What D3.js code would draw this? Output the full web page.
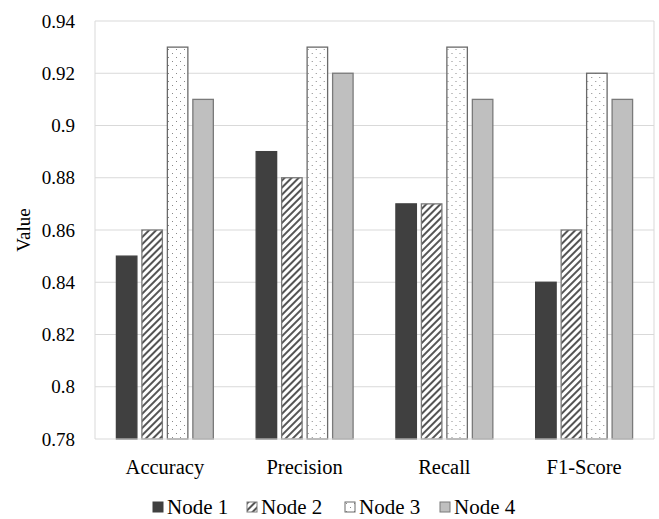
<!DOCTYPE html>
<html>
<head>
<meta charset="utf-8">
<script src="https://cdn.jsdelivr.net/npm/d3@7"></script>
<style>
  body { margin: 0; background: #fff; }
</style>
</head>
<body>
<svg width="659" height="519" font-family="'Liberation Serif', 'Times New Roman', Times, 'DejaVu Serif', serif"></svg>
<script>
let categories = ['Accuracy', 'Precision', 'Recall', 'F1-Score'];
let nodes = ['Node 1', 'Node 2', 'Node 3', 'Node 4'];
let node1 = [0.85, 0.89, 0.87, 0.84];
let node2 = [0.86, 0.88, 0.87, 0.86];
let node3 = [0.93, 0.93, 0.93, 0.92];
let node4 = [0.91, 0.92, 0.91, 0.91];
let yTicks = [0.78, 0.8, 0.82, 0.84, 0.86, 0.88, 0.9, 0.92, 0.94];

let series = [node1, node2, node3, node4];

let plotLeft = 95, plotRight = 654, plotTop = 21, plotBottom = 439;

let svg = d3.select('svg');

// patterns
let defs = svg.append('defs');
let hatch = defs.append('pattern')
  .attr('id', 'hatch')
  .attr('patternUnits', 'userSpaceOnUse')
  .attr('width', 5).attr('height', 5)
  .attr('patternTransform', 'rotate(45)');
hatch.append('rect').attr('width', 5).attr('height', 5).attr('fill', '#fff');
hatch.append('rect').attr('x', 0).attr('width', 2).attr('height', 5).attr('fill', '#555');

let dots = defs.append('pattern')
  .attr('id', 'dots')
  .attr('patternUnits', 'userSpaceOnUse')
  .attr('width', 8).attr('height', 8);
dots.append('rect').attr('width', 8).attr('height', 8).attr('fill', '#fff');
dots.append('rect').attr('x', 1).attr('y', 1).attr('width', 1).attr('height', 1).attr('fill', '#888');
dots.append('rect').attr('x', 5).attr('y', 5).attr('width', 1).attr('height', 1).attr('fill', '#888');

let fills = ['#404040', 'url(#hatch)', 'url(#dots)', '#bfbfbf'];
let strokes = ['#404040', '#7a7a7a', '#6a6a6a', '#7a7a7a'];

let x0 = d3.scaleBand().domain(categories).range([plotLeft, plotRight]);
let x1 = d3.scaleBand().domain(nodes).range([0, x0.bandwidth()])
  .paddingInner(0.196).paddingOuter(0.84);
let y = d3.scaleLinear().domain([0.78, 0.94]).range([plotBottom, plotTop]);

// gridlines
svg.append('g')
  .selectAll('line')
  .data(yTicks.slice(1))
  .enter()
  .append('line')
  .attr('x1', plotLeft).attr('x2', plotRight)
  .attr('y1', d => y(d)).attr('y2', d => y(d))
  .attr('stroke', '#d9d9d9').attr('stroke-width', 1);

// plot border
svg.append('line').attr('x1', plotLeft).attr('x2', plotLeft).attr('y1', plotTop).attr('y2', plotBottom)
  .attr('stroke', '#d9d9d9');
svg.append('line').attr('x1', plotRight).attr('x2', plotRight).attr('y1', plotTop).attr('y2', plotBottom)
  .attr('stroke', '#d9d9d9');

// bars
let groups = svg.append('g')
  .selectAll('g')
  .data(categories)
  .enter()
  .append('g')
  .attr('transform', d => 'translate(' + x0(d) + ',0)');

groups.selectAll('rect')
  .data((c, ci) => nodes.map((n, ni) => ({ node: n, ni: ni, value: series[ni][ci] })))
  .enter()
  .append('rect')
  .attr('x', d => x1(d.node))
  .attr('y', d => y(d.value))
  .attr('width', x1.bandwidth())
  .attr('height', d => plotBottom - y(d.value))
  .attr('fill', d => fills[d.ni])
  .attr('stroke', d => strokes[d.ni])
  .attr('stroke-width', 1.3);

// x axis line
svg.append('line').attr('x1', plotLeft).attr('x2', plotRight).attr('y1', plotBottom).attr('y2', plotBottom)
  .attr('stroke', '#d9d9d9');

// y tick labels
svg.append('g')
  .selectAll('text')
  .data(yTicks)
  .enter()
  .append('text')
  .attr('x', 75)
  .attr('y', d => y(d))
  .attr('dy', '0.35em')
  .attr('text-anchor', 'end')
  .attr('font-size', 19)
  .text(d => d);

// category labels
svg.append('g')
  .selectAll('text')
  .data(categories)
  .enter()
  .append('text')
  .attr('x', d => x0(d) + x0.bandwidth() / 2)
  .attr('y', 474)
  .attr('text-anchor', 'middle')
  .attr('font-size', 20.5)
  .text(d => d);

// y axis title
svg.append('text')
  .attr('transform', 'translate(30,' + ((plotTop + plotBottom) / 2) + ') rotate(-90)')
  .attr('text-anchor', 'middle')
  .attr('font-size', 19)
  .text('Value');

// legend
let legendX = [153, 247, 345, 440];
let legend = svg.append('g')
  .selectAll('g')
  .data(nodes)
  .enter()
  .append('g')
  .attr('transform', (d, i) => 'translate(' + legendX[i] + ',502)');

legend.append('rect')
  .attr('width', 10).attr('height', 10)
  .attr('fill', (d, i) => fills[i])
  .attr('stroke', (d, i) => strokes[i])
  .attr('stroke-width', 1);

legend.append('text')
  .attr('x', 14)
  .attr('y', 12)
  .attr('font-size', 21)
  .text(d => d);
</script>
</body>
</html>
